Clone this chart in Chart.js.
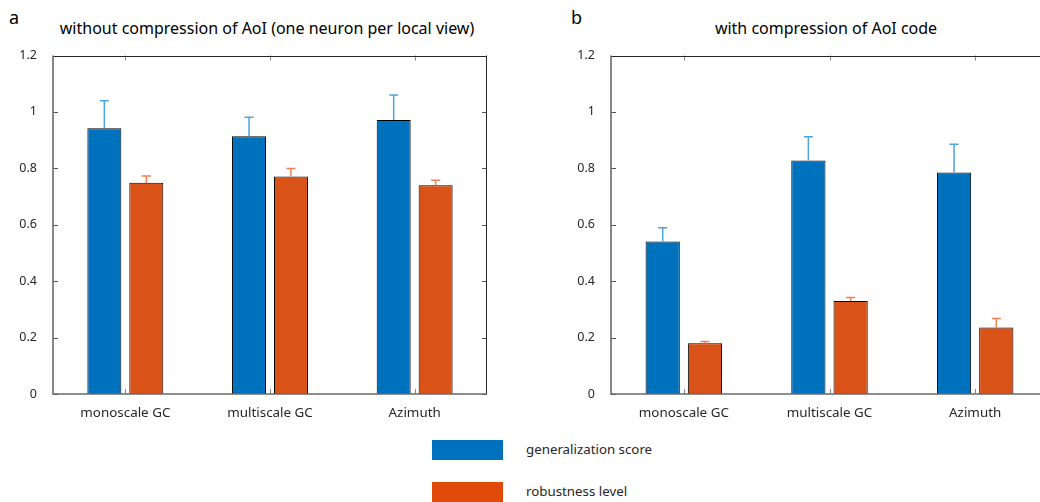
<!DOCTYPE html>
<html>
<head>
<meta charset="utf-8">
<script src="https://cdn.jsdelivr.net/npm/chart.js@4"></script>
<style>
  html, body { margin: 0; padding: 0; background: #fff; width: 1040px; height: 502px; overflow: hidden; position: relative; font-family: "Noto Sans", sans-serif; color: #262626; }
  canvas { position: absolute; }
  .lbl { position: absolute; white-space: nowrap; }
  .panel { font-size: 18px; color: #000; }
  .title { font-size: 16px; color: #000; transform: translateX(-50%); }
  .legbox { position: absolute; width: 71px; height: 20px; }
  .legtxt { position: absolute; font-size: 13.3px; color: #262626; white-space: nowrap; }
</style>
</head>
<body>
<div class="lbl panel" style="left:9px; top:5px;">a</div>
<div class="lbl panel" style="left:571px; top:5px;">b</div>
<div class="lbl title" style="left:267px; top:17px;">without compression of AoI (one neuron per local view)</div>
<div class="lbl title" style="left:826px; top:17px;">with compression of AoI code</div>
<div id="legend"></div>
<canvas id="c1" width="500" height="390" style="left:0px; top:40px; width:500px; height:390px;"></canvas>
<canvas id="c2" width="500" height="390" style="left:560px; top:40px; width:500px; height:390px;"></canvas>
<script>
// ---- data ----
const categories = ['monoscale GC', 'multiscale GC', 'Azimuth'];
const seriesNames = ['generalization score', 'robustness level'];
const yTickValues = [0, 0.2, 0.4, 0.6, 0.8, 1, 1.2];
const yTickLabels = ['0', '0.2', '0.4', '0.6', '0.8', '1', '1.2'];

// panel a: without compression
const genNoComp    = [0.942, 0.914, 0.971];
const genNoCompErr = [0.098, 0.067, 0.089];
const robNoComp    = [0.749, 0.771, 0.740];
const robNoCompErr = [0.024, 0.028, 0.018];

// panel b: with compression
const genComp    = [0.541, 0.828, 0.785];
const genCompErr = [0.048, 0.084, 0.100];
const robComp    = [0.180, 0.330, 0.236];
const robCompErr = [0.006, 0.012, 0.032];

// ---- styles ----
const barColors = ['#0072BD', '#D95319'];
const legendColors = ['#0072BD', '#E04A0A'];
const errColors = ['#4DA3DC', '#EC8155'];

// legend (HTML)
(function () {
  const leg = document.getElementById('legend');
  const tops = [440, 482];
  seriesNames.forEach((n, i) => {
    const b = document.createElement('div');
    b.className = 'legbox';
    b.style.left = '432px'; b.style.top = tops[i] + 'px'; b.style.background = legendColors[i];
    leg.appendChild(b);
    const t = document.createElement('div');
    t.className = 'legtxt';
    t.style.left = '526px'; t.style.top = tops[i] + 'px';
    t.textContent = n;
    leg.appendChild(t);
  });
})();

const errorBarPlugin = {
  id: 'errbars',
  afterDatasetsDraw(chart) {
    const ctx = chart.ctx;
    const ys = chart.scales.y;
    chart.data.datasets.forEach((ds, di) => {
      const meta = chart.getDatasetMeta(di);
      meta.data.forEach((el, i) => {
        const v = ds.data[i], e = ds.errors[i];
        const yTop = ys.getPixelForValue(v + e);
        const yBar = ys.getPixelForValue(v);
        ctx.save();
        ctx.strokeStyle = ds.errColor;
        ctx.lineWidth = 1.5;
        ctx.beginPath();
        ctx.moveTo(el.x, yBar);
        ctx.lineTo(el.x, yTop);
        ctx.moveTo(el.x - 4.5, yTop);
        ctx.lineTo(el.x + 4.5, yTop);
        ctx.stroke();
        ctx.restore();
      });
    });
  }
};

const boxPlugin = {
  id: 'boxaxes',
  afterDraw(chart) {
    const ctx = chart.ctx;
    const a = chart.chartArea;
    const xs = chart.scales.x, ys = chart.scales.y;
    ctx.save();
    ctx.strokeStyle = '#555';
    ctx.lineWidth = 1;
    ys.ticks.forEach((t, i) => {
      const y = Math.round(ys.getPixelForTick(i)) + 0.5;
      ctx.beginPath();
      ctx.moveTo(a.left, y); ctx.lineTo(a.left + 5, y);
      ctx.moveTo(a.right, y); ctx.lineTo(a.right - 5, y);
      ctx.stroke();
    });
    ctx.strokeStyle = '#888';
    xs.ticks.forEach((t, i) => {
      const x = Math.round(xs.getPixelForTick(i)) + 0.5;
      ctx.beginPath();
      ctx.moveTo(x, a.bottom); ctx.lineTo(x, a.bottom - 5);
      ctx.moveTo(x, a.top); ctx.lineTo(x, a.top + 5);
      ctx.stroke();
    });
    ctx.strokeStyle = '#262626';
    ctx.lineWidth = 1;
    ctx.beginPath();
    ctx.moveTo(a.left, Math.round(a.top) + 0.5);
    ctx.lineTo(a.right, Math.round(a.top) + 0.5);
    ctx.moveTo(Math.round(a.right) - 0.5, a.top);
    ctx.lineTo(Math.round(a.right) - 0.5, a.bottom);
    ctx.stroke();
    ctx.strokeStyle = '#6a6a6a';
    ctx.lineWidth = 1.6;
    ctx.beginPath();
    ctx.moveTo(a.left, a.top);
    ctx.lineTo(a.left, a.bottom);
    ctx.lineTo(a.right, a.bottom);
    ctx.stroke();
    ctx.restore();
  }
};

function makeChart(id, gen, genErr, rob, robErr, yAxisWidth, padRight) {
  return new Chart(document.getElementById(id), {
    type: 'bar',
    data: {
      labels: categories,
      datasets: [
        { label: seriesNames[0], data: gen, errors: genErr, errColor: errColors[0],
          backgroundColor: barColors[0], borderColor: '#000', borderWidth: 1,
          categoryPercentage: 0.58, barPercentage: 0.81 },
        { label: seriesNames[1], data: rob, errors: robErr, errColor: errColors[1],
          backgroundColor: barColors[1], borderColor: '#000', borderWidth: 1,
          categoryPercentage: 0.58, barPercentage: 0.81 }
      ]
    },
    options: {
      responsive: false,
      animation: false,
      devicePixelRatio: 1,
      layout: { padding: { top: 12, right: padRight, left: 0, bottom: 0 } },
      plugins: { legend: { display: false }, title: { display: false }, tooltip: { enabled: false } },
      scales: {
        x: {
          grid: { display: false },
          border: { display: false },
          ticks: { color: '#262626', font: { family: 'Noto Sans', size: 13.4 }, padding: 3, maxRotation: 0 },
          afterFit(s) { s.height = 36; }
        },
        y: {
          min: 0, max: 1.2,
          grid: { display: false },
          border: { display: false },
          afterBuildTicks(s) { s.ticks = yTickValues.map(v => ({ value: v })); },
          ticks: {
            color: '#262626', font: { family: 'Noto Sans', size: 12.5 }, padding: 8,
            callback: (v) => yTickLabels[yTickValues.indexOf(v)]
          },
          afterFit(s) { s.width = yAxisWidth; }
        }
      }
    },
    plugins: [errorBarPlugin, boxPlugin]
  });
}

makeChart('c1', genNoComp, genNoCompErr, robNoComp, robNoCompErr, 53, 13);
makeChart('c2', genComp, genCompErr, robComp, robCompErr, 51, 12);
</script>
</body>
</html>
